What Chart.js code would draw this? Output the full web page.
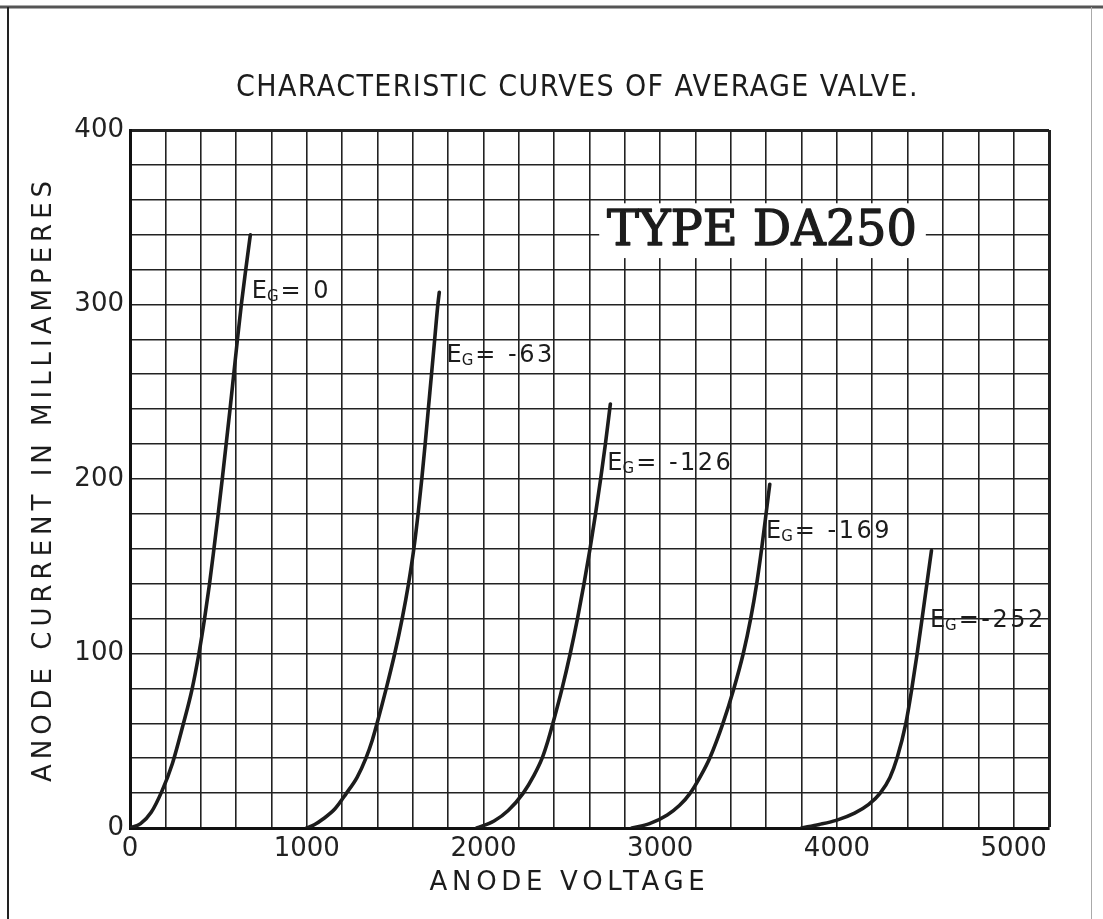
<!DOCTYPE html>
<html>
<head>
<meta charset="utf-8">
<script src="https://cdn.jsdelivr.net/npm/chart.js@4.4.0/dist/chart.umd.min.js"></script>
<style>
html,body{margin:0;padding:0;background:#fff;}
#wrap{width:1103px;height:919px;position:relative;}
</style>
</head>
<body>
<div id="wrap"><canvas id="c" width="1103" height="919"></canvas></div>
<script>
// ---- texts ----
const chartTitle = 'CHARACTERISTIC CURVES OF AVERAGE VALVE.';
const xAxisTitle = 'ANODE VOLTAGE';
const yAxisTitle = 'ANODE CURRENT IN MILLIAMPERES';
const typeLabel = 'TYPE DA250';

// ---- tick labels ----
const xTickLabels = [0, 1000, 2000, 3000, 4000, 5000];
const yTickLabels = [0, 100, 200, 300, 400];

// ---- grid bias of each curve (volts) and the printed label after "E_G" ----
const gridBias = [0, -63, -126, -169, -252];
const curveLabels = ['= 0', '= -63', '= -126', '= -169', '=-252'];

// ---- curves: anode voltage (V) and anode current (mA) ----
const curve0V   = [0, 60, 120, 180, 240, 300, 350, 390, 422, 450, 475, 499, 522, 544, 566, 587, 608, 630, 655, 681];
const curve0I   = [0, 2.5, 9, 21, 37, 59, 79, 100, 120, 140, 160, 180, 200, 220, 240, 260, 280, 300, 320, 340];

const curve63V  = [1000, 1045, 1090, 1160, 1225, 1285, 1335, 1370, 1398, 1450, 1498, 1540, 1576, 1606, 1630, 1651, 1670, 1688, 1706, 1724, 1742, 1750];
const curve63I  = [0, 2, 5, 11, 20, 29, 40, 50, 60, 80, 100, 120, 140, 160, 180, 200, 220, 240, 260, 280, 300, 307];

const curve126V = [1962, 2060, 2140, 2225, 2285, 2332, 2365, 2393, 2445, 2491, 2532, 2569, 2603, 2634, 2663, 2690, 2718];
const curve126I = [0, 4, 10, 20, 30, 40, 50, 60, 80, 100, 120, 140, 160, 180, 200, 220, 243];

const curve169V = [2840, 2940, 3040, 3110, 3170, 3230, 3280, 3355, 3417, 3470, 3512, 3546, 3574, 3599, 3620];
const curve169I = [0, 2.5, 7.5, 13, 20, 30, 40, 60, 80, 100, 120, 140, 160, 180, 197];

const curve252V = [3800, 3900, 4000, 4100, 4180, 4245, 4300, 4340, 4390, 4424, 4454, 4482, 4509, 4535];
const curve252I = [0, 2, 4.5, 8.5, 13.5, 20, 29, 40, 60, 80, 100, 120, 140, 159];

// ---- label anchors (left edge, baseline) in data units ----
const labelV = [689, 1791, 2701, 3599, 4526];
const labelI = [304, 267, 205, 166, 115];

const curvesV = [curve0V, curve63V, curve126V, curve169V, curve252V];
const curvesI = [curve0I, curve63I, curve126I, curve169I, curve252I];

const INK = '#1c1c1c';
const sansFont = "'DejaVu Sans', 'Liberation Sans', sans-serif";
const condFont = "'DejaVu Sans Condensed', 'DejaVu Sans', sans-serif";

const datasets = curvesV.map((vs, k) => ({
  label: 'EG = ' + gridBias[k],
  data: vs.map((v, i) => ({x: v, y: curvesI[k][i]})),
  borderColor: INK,
  borderWidth: 3.6,
  borderCapStyle: 'round',
  borderJoinStyle: 'round',
  pointRadius: 0,
  cubicInterpolationMode: 'monotone',
  fill: false
}));

const pagePlugin = {
  id: 'page',
  beforeDraw(chart) {
    const c = chart.ctx;
    c.save();
    c.fillStyle = '#fff';
    c.fillRect(0, 0, chart.width, chart.height);
    c.strokeStyle = '#555';
    c.lineWidth = 3;
    c.beginPath(); c.moveTo(0, 7); c.lineTo(chart.width, 7); c.stroke();
    c.strokeStyle = '#222';
    c.lineWidth = 2;
    c.beginPath(); c.moveTo(8, 7); c.lineTo(8, chart.height); c.stroke();
    c.strokeStyle = '#aaa';
    c.lineWidth = 1;
    c.beginPath(); c.moveTo(1091.5, 7); c.lineTo(1091.5, chart.height); c.stroke();
    c.restore();
  },
  afterLayout(chart) {
    if (chart.$wrapped) return;
    chart.$wrapped = true;
    const tb = chart.titleBlock;
    if (tb) {
      const orig = tb.draw.bind(tb);
      tb.draw = function(a) { const c = chart.ctx; c.save(); c.letterSpacing = '1.4px'; c.translate(53, 0); orig(a); c.restore(); };
    }
    const sx = chart.scales.x, sy = chart.scales.y;
    const ox = sx.drawTitle.bind(sx);
    sx.drawTitle = function() { const c = chart.ctx; c.save(); c.letterSpacing = '4.7px'; c.translate(-20, 0); ox(); c.restore(); };
    const oy = sy.drawTitle.bind(sy);
    sy.drawTitle = function() { const c = chart.ctx; c.save(); c.letterSpacing = '5px'; oy(); c.restore(); };
  },
  beforeDatasetsDraw(chart) {
    const {ctx: c, scales: {x, y}} = chart;
    // white panel for the type name
    const x0 = x.getPixelForValue(2655), x1 = x.getPixelForValue(4503);
    const y0 = y.getPixelForValue(358), y1 = y.getPixelForValue(326.6);
    c.save();
    c.fillStyle = '#fff';
    c.fillRect(x0, y0, x1 - x0, y1 - y0);
    c.font = "48px 'DejaVu Serif', 'Liberation Serif', serif";
    const w = c.measureText(typeLabel).width;
    const target = 310;
    c.translate(x.getPixelForValue(3576), y.getPixelForValue(334));
    c.scale(target / w, 1);
    c.textAlign = 'center';
    c.textBaseline = 'alphabetic';
    c.fillStyle = INK;
    c.strokeStyle = INK;
    c.lineWidth = 1.3;
    c.lineJoin = 'round';
    c.fillText(typeLabel, 0, 0);
    c.strokeText(typeLabel, 0, 0);
    c.restore();
  },
  afterDatasetsDraw(chart) {
    const {ctx: c, scales: {x, y}} = chart;
    c.save();
    c.fillStyle = INK;
    c.textBaseline = 'alphabetic';
    c.textAlign = 'left';
    curveLabels.forEach((t, k) => {
      const px = x.getPixelForValue(labelV[k]);
      const py = y.getPixelForValue(labelI[k]);
      c.letterSpacing = '0px';
      c.font = '24px ' + sansFont;
      c.fillText('E', px, py);
      const wE = c.measureText('E').width;
      c.font = '15px ' + sansFont;
      c.fillText('G', px + wE, py + 3);
      const wG = c.measureText('G').width;
      c.font = '24px ' + sansFont;
      c.letterSpacing = '2.5px';
      c.fillText(t, px + wE + wG + 2, py);
    });
    c.restore();
  }
};

const gridW = (max) => (ctx) => (ctx.tick && Math.round(ctx.tick.value) === max) ? 3 : 1.6;

new Chart(document.getElementById('c'), {
  type: 'line',
  data: {datasets},
  options: {
    responsive: false,
    animation: false,
    devicePixelRatio: 1,
    layout: {padding: {left: 0, right: 54, top: 0, bottom: 0}},
    plugins: {
      legend: {display: false},
      tooltip: {enabled: false},
      title: {
        display: true,
        text: chartTitle,
        color: INK,
        font: {family: condFont, size: 30, weight: 'normal', lineHeight: 1.2},
        padding: {top: 70, bottom: 24}
      }
    },
    scales: {
      x: {
        type: 'linear',
        min: 0, max: 5200,
        afterFit(s) { s.height = 91; },
        ticks: {
          stepSize: 200,
          autoSkip: false,
          maxRotation: 0,
          padding: 6,
          color: '#222',
          font: {family: sansFont, size: 26, weight: 'normal'},
          callback: (v) => xTickLabels.includes(Math.round(v)) ? String(Math.round(v)) : ''
        },
        grid: {color: '#222', lineWidth: gridW(5200), drawTicks: false},
        border: {display: true, color: '#111', width: 3},
        title: {
          display: true, text: xAxisTitle, color: INK,
          font: {family: sansFont, size: 26, weight: 'normal', lineHeight: 1.2},
          padding: {top: 0, bottom: 20}
        }
      },
      y: {
        type: 'linear',
        min: 0, max: 400,
        afterFit(s) { s.width = 130; },
        ticks: {
          stepSize: 20,
          autoSkip: false,
          padding: 6,
          color: '#222',
          font: {family: sansFont, size: 26, weight: 'normal'},
          callback: (v) => yTickLabels.includes(Math.round(v)) ? String(Math.round(v)) : ''
        },
        grid: {color: '#222', lineWidth: gridW(400), drawTicks: false},
        border: {display: true, color: '#111', width: 3},
        title: {
          display: true, text: yAxisTitle, color: INK,
          font: {family: sansFont, size: 26, weight: 'normal', lineHeight: 1.2},
          padding: {top: 29, bottom: 0}
        }
      }
    }
  },
  plugins: [pagePlugin]
});
</script>
</body>
</html>
